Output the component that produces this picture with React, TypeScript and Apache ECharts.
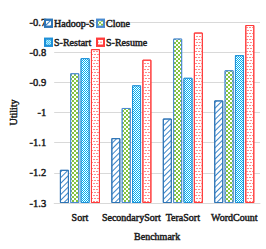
import React, { useEffect, useRef } from "react";
import * as echarts from "echarts";

const categories = ["Sort", "SecondarySort", "TeraSort", "WordCount"];
const hadoopS = [-1.19, -1.085, -1.02, -0.96];
const clone = [-0.87, -0.985, -0.755, -0.86];
const sRestart = [-0.82, -0.91, -0.885, -0.81];
const sResume = [-0.79, -0.825, -0.735, -0.71];
const yTicks = { min: -1.3, max: -0.7, interval: 0.1 };

const FONT = "'Liberation Serif'";
const TXT = "#1a1a1a";
const boldish = { fontFamily: FONT, fontWeight: "normal", color: TXT, textBorderColor: TXT, textBorderWidth: 0.45 };

export default function App() {
  const ref = useRef<HTMLDivElement>(null);
  useEffect(() => {
    if (!ref.current) return;
    const chart = echarts.init(ref.current, null, { renderer: "svg" });
    const mkLegend = (name: string, left: number, top: number) => ({
      data: [name],
      left,
      top,
      itemWidth: 7,
      itemHeight: 7,
      itemGap: 0,
      padding: 0,
      icon: "rect",
      textStyle: { ...boldish, fontSize: 10, padding: [0, 0, 0, -3] },
    });
    const barBase = { type: "bar", barWidth: 9, barGap: "15%" };
    chart.setOption({
      animation: false,
      backgroundColor: "#ffffff",
      grid: { left: 36, right: 6, top: 22, bottom: 46, containLabel: false },
      legend: [
        mkLegend("Hadoop-S", 44, 18),
        mkLegend("Clone", 96, 18),
        mkLegend("S-Restart", 44, 37),
        mkLegend("S-Resume", 96, 37),
      ],
      xAxis: {
        type: "category",
        data: categories,
        name: "Benchmark",
        nameLocation: "middle",
        nameGap: 28,
        nameTextStyle: { ...boldish, fontSize: 10 },
        axisLine: { show: true, lineStyle: { color: "#d9d9d9", width: 1 } },
        axisTick: { show: false },
        axisLabel: { ...boldish, interval: 0, fontSize: 10, margin: 9 },
      },
      yAxis: {
        type: "value",
        min: yTicks.min,
        max: yTicks.max,
        interval: yTicks.interval,
        startValue: yTicks.min,
        name: "Utility",
        nameLocation: "middle",
        nameRotate: 90,
        nameGap: 31,
        nameTextStyle: { ...boldish, fontSize: 10 },
        axisLine: { show: false },
        axisTick: { show: false },
        splitLine: { show: true, lineStyle: { color: "#d9d9d9", width: 1 } },
        axisLabel: {
          ...boldish,
          fontSize: 10.5,
          margin: 8,
          formatter: (v: number) => String(Math.round(v * 10) / 10),
        },
      },
      series: [
        {
          ...barBase,
          name: "Hadoop-S",
          data: hadoopS,
          itemStyle: {
            color: "#ffffff",
            borderColor: "#2e75b6",
            borderWidth: 1,
            decal: { symbol: "rect", color: "#3a85c8", dashArrayX: [1, 0], dashArrayY: [1, 3], rotation: -Math.PI / 4 },
          },
        },
        {
          ...barBase,
          name: "Clone",
          data: clone,
          itemStyle: {
            color: "#84c440",
            borderColor: "#4a8ad0",
            borderWidth: 1,
            decal: { symbol: "rect", color: "#ffffff", dashArrayX: [[2, 2], [0, 2, 2, 0]], dashArrayY: [2, 0], rotation: 0 },
          },
        },
        {
          ...barBase,
          name: "S-Restart",
          data: sRestart,
          itemStyle: {
            color: "#00b0f0",
            borderColor: "#1e90d8",
            borderWidth: 1,
            decal: { symbol: "rect", color: "#ffffff", dashArrayX: [[1, 1], [0, 1, 1, 0]], dashArrayY: [1, 0], rotation: 0 },
          },
        },
        {
          ...barBase,
          name: "S-Resume",
          data: sResume,
          itemStyle: {
            color: "#ffffff",
            borderColor: "#ff3b3b",
            borderWidth: 1,
            decal: { symbol: "rect", color: "#ff8a8a", dashArrayX: [[2, 1], [0, 1, 2, 0]], dashArrayY: [1, 1.5], rotation: 0 },
          },
        },
      ],
    });
    return () => chart.dispose();
  }, []);
  return <div ref={ref} style={{ position: "fixed", left: 0, top: 0, width: 266, height: 249 }} />;
}
